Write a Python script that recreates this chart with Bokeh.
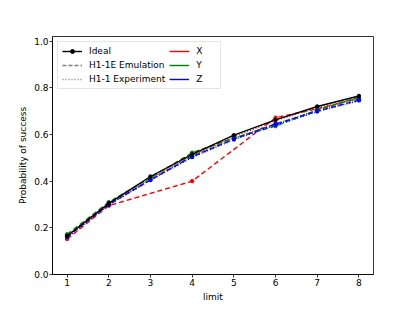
from bokeh.plotting import figure
from bokeh.models import Range1d, FixedTicker, Legend, LegendItem, PrintfTickFormatter, ColumnDataSource
from bokeh.embed import file_html
from bokeh.resources import INLINE

limits = [1, 2, 3, 4, 5, 6, 7, 8]
ideal = [0.165, 0.305, 0.42, 0.515, 0.597, 0.663, 0.72, 0.765]

x_emu_limits = [1, 2, 4, 6, 7, 8]
x_emu = [0.152, 0.295, 0.40, 0.672, 0.71, 0.755]
y_emu = [0.172, 0.31, 0.415, 0.522, 0.585, 0.636, 0.705, 0.76]
z_emu = [0.162, 0.300, 0.405, 0.505, 0.58, 0.645, 0.70, 0.748]

x_exp = [0.158, 0.30, 0.41, 0.51, 0.59, 0.66, 0.715, 0.755]
y_exp = [0.168, 0.305, 0.412, 0.51, 0.585, 0.645, 0.705, 0.755]
z_exp = [0.16, 0.298, 0.405, 0.502, 0.578, 0.64, 0.698, 0.745]

y_ticks = [0.0, 0.2, 0.4, 0.6, 0.8, 1.0]

FONT = "DejaVu Sans"
FS = "9px"

p = figure(width=399, height=304, output_backend="svg", toolbar_location=None,
           x_range=Range1d(0.65, 8.35), y_range=Range1d(0, 1.02),
           min_border_left=52, min_border_right=26, min_border_top=36, min_border_bottom=20)
p.grid.visible = False
p.outline_line_color = "black"
p.outline_line_width = 0.8
p.background_fill_color = "white"
p.border_fill_color = "white"

p.xaxis.ticker = FixedTicker(ticks=limits)
p.yaxis.ticker = FixedTicker(ticks=y_ticks)
p.yaxis.formatter = PrintfTickFormatter(format="%.1f")
p.xaxis.axis_label = "limit"
p.yaxis.axis_label = "Probability of success"
for ax in (p.xaxis[0], p.yaxis[0]):
    ax.major_label_text_font = FONT
    ax.major_label_text_font_size = FS
    ax.major_label_text_color = "black"
    ax.axis_label_text_font = FONT
    ax.axis_label_text_font_size = FS
    ax.axis_label_text_color = "black"
    ax.axis_label_text_font_style = "normal"
    ax.minor_tick_line_color = None
    ax.major_tick_in = 0
    ax.major_tick_out = 3
    ax.axis_line_color = "black"
    ax.major_tick_line_color = "black"
    ax.axis_line_width = 0.8
    ax.major_tick_line_width = 0.8
    ax.major_label_standoff = 1
    ax.axis_label_standoff = 3

lw = 1.4
series = [
    ("#ff0000", x_emu_limits, x_emu, x_exp),
    ("#008000", limits, y_emu, y_exp),
    ("#0000ff", limits, z_emu, z_exp),
]
for color, xe, emu, exp in series:
    p.line(limits, exp, line_color=color, line_width=lw, line_dash="1 2")
    p.scatter(limits, exp, marker="square", size=2.5, color=color)
    p.line(xe, emu, line_color=color, line_width=lw, line_dash="5 3")
    p.scatter(xe, emu, marker="circle", size=3.5, color=color)

p.line(limits, ideal, line_color="black", line_width=lw)
p.scatter(limits, ideal, marker="circle", size=3.5, color="black")

def proxy():
    return ColumnDataSource(dict(x=[-100.0], y=[-100.0]))

r_ideal_l = p.line(x="x", y="y", source=proxy(), line_color="black", line_width=lw)
r_ideal_m = p.scatter(x="x", y="y", source=proxy(), marker="circle", size=3.5, color="black")
r_emu = p.line(x="x", y="y", source=proxy(), line_color="gray", line_width=lw, line_dash="4 2")
r_exp = p.line(x="x", y="y", source=proxy(), line_color="gray", line_width=lw, line_dash="1 2")
r_x = p.line(x="x", y="y", source=proxy(), line_color="#ff0000", line_width=lw)
r_y = p.line(x="x", y="y", source=proxy(), line_color="#008000", line_width=lw)
r_z = p.line(x="x", y="y", source=proxy(), line_color="#0000ff", line_width=lw)

legend = Legend(items=[
    LegendItem(label="Ideal", renderers=[r_ideal_l, r_ideal_m]),
    LegendItem(label="H1-1E Emulation", renderers=[r_emu]),
    LegendItem(label="H1-1 Experiment", renderers=[r_exp]),
    LegendItem(label="X", renderers=[r_x]),
    LegendItem(label="Y", renderers=[r_y]),
    LegendItem(label="Z", renderers=[r_z]),
], location="top_left", nrows=3)
legend.label_text_font = FONT
legend.label_text_font_size = FS
legend.label_text_color = "black"
legend.label_height = 10
legend.glyph_height = 10
legend.glyph_width = 20
legend.spacing = 4
legend.padding = 4
legend.margin = 5
legend.label_standoff = 7
legend.border_line_color = "#cccccc"
legend.border_line_width = 0.8
legend.background_fill_alpha = 0.8
p.add_layout(legend)

open("out.html", "w").write(file_html(p, INLINE))
